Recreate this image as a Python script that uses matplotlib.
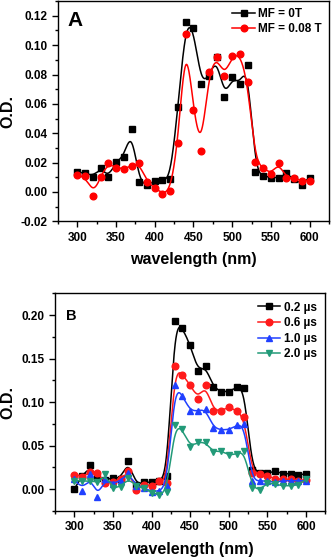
import numpy as np
import matplotlib
matplotlib.use("Agg")
import matplotlib.pyplot as plt
from matplotlib.ticker import MultipleLocator, FormatStrFormatter

plt.rcParams["font.family"] = ["Liberation Sans", "DejaVu Sans"]
plt.rcParams["font.weight"] = "bold"

# wavelength grid (nm)
wl = np.arange(300, 601, 10)

# panel A: magnetic field effect
mf_0 = [0.0136, 0.0130, 0.0100, 0.0166, 0.0100, 0.0204, 0.0240, 0.0426, 0.0070, 0.0045,
        0.0077, 0.0080, 0.0088, 0.0580, 0.1159, 0.1118, 0.0733, 0.0790, 0.0916, 0.0644,
        0.0780, 0.0737, 0.0868, 0.0138, 0.0110, 0.0097, 0.0097, 0.0127, 0.0086, 0.0050,
        0.0097]
mf_008 = [0.0113, 0.0111, -0.0025, 0.0104, 0.0195, 0.0166, 0.0156, 0.0179, 0.0195, 0.0068,
          0.0027, -0.0011, 0.0007, 0.0333, 0.1073, 0.0558, 0.0281, 0.0814, 0.0920, 0.0791,
          0.0925, 0.0943, 0.0746, 0.0204, 0.0166, 0.0120, 0.0200, 0.0093, 0.0093, 0.0077,
          0.0077]
labels_a = ["MF = 0T", "MF = 0.08 T"]

# panel B: time-resolved spectra
t02 = [0.0003, 0.0150, 0.0277, 0.0130, 0.0110, 0.0130, 0.0120, 0.0330, 0.0050, 0.0080,
       0.0080, 0.0100, 0.0150, 0.1930, 0.1850, 0.1660, 0.1355, 0.1416, 0.1170, 0.1120,
       0.1120, 0.1173, 0.1165, 0.0220, 0.0190, 0.0190, 0.0205, 0.0180, 0.0177, 0.0163,
       0.0177]
t06 = [0.0167, 0.0144, 0.0197, 0.0186, 0.0076, 0.0080, 0.0120, 0.0210, -0.0010, 0.0050,
       0.0034, 0.0090, 0.0076, 0.1410, 0.1313, 0.1200, 0.1040, 0.1200, 0.0903, 0.0903,
       0.0945, 0.0903, 0.0828, 0.0190, 0.0170, 0.0150, 0.0120, 0.0114, 0.0114, 0.0095,
       0.0110]
t10 = [0.0120, -0.0020, 0.0170, -0.0090, 0.0120, 0.0060, 0.0100, 0.0190, 0.0040, 0.0020,
       -0.0030, -0.0020, 0.0040, 0.1196, 0.1075, 0.0900, 0.0900, 0.0922, 0.0706, 0.0683,
       0.0683, 0.0733, 0.0748, 0.0095, 0.0100, 0.0090, 0.0080, 0.0100, 0.0095, 0.0100,
       0.0100]
t20 = [0.0100, 0.0095, 0.0095, 0.0080, 0.0170, 0.0010, 0.0030, 0.0125, 0.0040, 0.0010,
       -0.0040, -0.0065, -0.0030, 0.0740, 0.0690, 0.0486, 0.0540, 0.0540, 0.0425, 0.0444,
       0.0390, 0.0406, 0.0444, 0.0020, -0.0010, 0.0076, 0.0057, 0.0040, 0.0040, 0.0045,
       0.0114]
labels_b = ["0.2 \u00b5s", "0.6 \u00b5s", "1.0 \u00b5s", "2.0 \u00b5s"]


# 用数据点作为控制点的三次B样条(夹紧端点)
def bspline(x, y, num=600):
    pts = np.column_stack([x, y]).astype(float)
    n = len(pts)
    k = 3
    knots = np.concatenate([np.zeros(k), np.arange(0, n - k + 1), np.full(k, n - k)]).astype(float)
    t = np.linspace(0, n - k, num)
    t[-1] -= 1e-9
    # 0阶基函数
    B = np.zeros((num, len(knots) - 1))
    for i in range(len(knots) - 1):
        B[:, i] = (t >= knots[i]) & (t < knots[i + 1])
    for d in range(1, k + 1):
        Bn = np.zeros((num, len(knots) - 1 - d))
        for i in range(len(knots) - 1 - d):
            a = knots[i + d] - knots[i]
            b = knots[i + d + 1] - knots[i + 1]
            left = (t - knots[i]) / a * B[:, i] if a > 0 else 0
            right = (knots[i + d + 1] - t) / b * B[:, i + 1] if b > 0 else 0
            Bn[:, i] = left + right
        B = Bn
    c = B @ pts
    return c[:, 0], c[:, 1]


def style(ax, ymajor, yminor, fmt):
    ax.set_xlim(275, 625)
    ax.xaxis.set_major_locator(MultipleLocator(50))
    ax.xaxis.set_minor_locator(MultipleLocator(25))
    ax.yaxis.set_major_locator(MultipleLocator(ymajor))
    ax.yaxis.set_minor_locator(MultipleLocator(yminor))
    ax.yaxis.set_major_formatter(FormatStrFormatter(fmt))
    ax.tick_params(axis="both", which="major", direction="out", length=4, width=1,
                   labelsize=8.5, top=False, right=False)
    ax.tick_params(axis="both", which="minor", direction="out", length=2, width=1,
                   top=False, right=False)
    for lab in ax.get_xticklabels() + ax.get_yticklabels():
        lab.set_fontweight("bold")
    for s in ax.spines.values():
        s.set_linewidth(1)
    ax.set_xlabel("wavelength (nm)", fontsize=11.5, fontweight="bold", labelpad=6)
    ax.set_ylabel("O.D.", fontsize=11.5, fontweight="bold", labelpad=4)


fig = plt.figure(figsize=(3.31, 5.58), dpi=100)

# ---- 图A ----
ax1 = fig.add_axes([0.175, 0.6034, 0.819, 0.3946])
for ys, col, mk, lab in [(mf_0, "black", "s", labels_a[0]), (mf_008, "red", "o", labels_a[1])]:
    bx, by = bspline(wl, ys)
    ax1.plot(bx, by, color=col, lw=1.1)
    ax1.plot(wl, ys, ls="none", marker=mk, color=col, ms=4.2 if mk == "s" else 4.8)
    ax1.plot([], [], color=col, lw=1.1, marker=mk, ms=4.2 if mk == "s" else 4.8, label=lab)
ax1.set_ylim(-0.02, 0.13)
style(ax1, 0.02, 0.01, "%.2f")
ax1.text(0.035, 0.955, "A", transform=ax1.transAxes, fontsize=15, fontweight="bold",
         va="top", ha="left")
ax1.legend(loc="upper right", frameon=False, handlelength=1.9,
           handletextpad=0.3, borderaxespad=0.2, labelspacing=0.25,
           prop={"weight": "bold", "size": 8.5})

# ---- 图B ----
ax2 = fig.add_axes([0.166, 0.0842, 0.817, 0.3902])
series_b = [(t02, "black", "s"), (t06, "#ff1a1a", "o"), (t10, "#2040ff", "^"), (t20, "#229a78", "v")]
for (ys, col, mk), lab in zip(series_b, labels_b):
    bx, by = bspline(wl, ys)
    ax2.plot(bx, by, color=col, lw=1.1)
    ax2.plot(wl, ys, ls="none", marker=mk, color=col, ms=4.2 if mk == "s" else 4.8)
    ax2.plot([], [], color=col, lw=1.1, marker=mk, ms=4.2 if mk == "s" else 4.8, label=lab)
ax2.set_ylim(-0.025, 0.225)
style(ax2, 0.05, 0.025, "%.2f")
ax2.text(0.04, 0.93, "B", transform=ax2.transAxes, fontsize=10.5, fontweight="bold",
         va="top", ha="left")
ax2.legend(loc="upper right", frameon=False, handlelength=1.9, handletextpad=0.3,
           borderaxespad=0.3, labelspacing=0.3, prop={"weight": "bold", "size": 8.5})

fig.savefig("out.png", dpi=100)
